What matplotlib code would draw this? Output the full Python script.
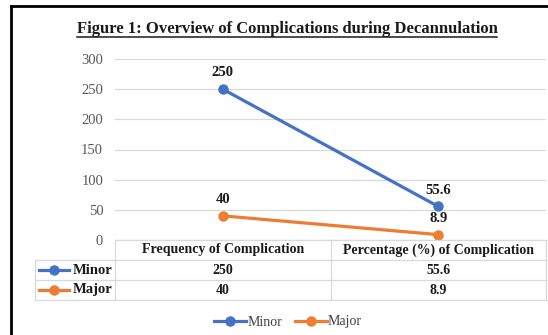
import matplotlib
matplotlib.use('Agg')
from matplotlib import pyplot as plt

# data
categories = ['Frequency of Complication', 'Percentage (%) of Complication']
series_names = ['Minor', 'Major']
minor_values = [250, 55.6]
major_values = [40, 8.9]
y_ticks = [0, 50, 100, 150, 200, 250, 300]
title = 'Figure 1: Overview of Complications during Decannulation'

colors = {'Minor': '#4472C4', 'Major': '#ED7D31'}
values = {'Minor': minor_values, 'Major': major_values}

W, H = 548, 335
SERIF = 'Liberation Serif'
TEXT_COLOR = '#1a1a1a'
GRID = '#d9d9d9'


def px(x, y):
    """pixel (from top-left) -> figure fraction"""
    return x / W, 1 - y / H


fig = plt.figure(figsize=(W / 100, H / 100), dpi=100, facecolor='white')

# plot area
left, right, top, bottom = 115, 546, 59, 240
ax = fig.add_axes([left / W, 1 - bottom / H, (right - left) / W, (bottom - top) / H])
ax.set_xlim(0, len(categories))
ax.set_ylim(y_ticks[0], y_ticks[-1])
ax.set_yticks(y_ticks)
ax.set_xticks([])
for s in ax.spines.values():
    s.set_visible(False)
ax.grid(axis='y', color=GRID, linewidth=0.9)
ax.set_axisbelow(True)
ax.tick_params(axis='y', length=0, pad=8.5, labelsize=10.5, labelcolor='#595959')
for lab in ax.get_yticklabels():
    lab.set_fontfamily(SERIF)

xs = [i + 0.5 for i in range(len(categories))]
handles = []
for name in series_names:
    line, = ax.plot(xs, values[name], color=colors[name], linewidth=2.3,
                    marker='o', markersize=6.5, clip_on=False, zorder=3)
    handles.append(line)
    for x, v in zip(xs, values[name]):
        ax.annotate(f'{v:g}', (x, v), xytext=(0, 7), textcoords='offset points',
                    ha='center', va='bottom', fontsize=10.5, fontweight='bold',
                    fontfamily=SERIF, color=TEXT_COLOR)

# data table under the plot, drawn on an overlay in pixel units
tab = fig.add_axes([0, 0, 1, 1], facecolor='none')
tab.set_xlim(0, W)
tab.set_ylim(H, 0)
tab.axis('off')

col_edges = [left + (right - left) * i / len(categories) for i in range(len(categories) + 1)]
row_h = 20
row_left = 35
row_edges = [bottom + row_h * i for i in range(len(series_names) + 2)]
lw = 0.9
# horizontal lines
tab.plot([left, right], [row_edges[0]] * 2, color=GRID, lw=lw)
for y in row_edges[1:]:
    tab.plot([row_left, right], [y, y], color=GRID, lw=lw)
# vertical lines
tab.plot([row_left, row_left], [row_edges[1], row_edges[-1]], color=GRID, lw=lw)
for x in col_edges:
    tab.plot([x, x], [row_edges[0], row_edges[-1]], color=GRID, lw=lw)

for i, cat in enumerate(categories):
    cx = (col_edges[i] + col_edges[i + 1]) / 2
    tab.text(cx, (row_edges[0] + row_edges[1]) / 2, cat, ha='center', va='center',
             fontsize=10, fontweight='bold', fontfamily=SERIF, color=TEXT_COLOR)
    for r, name in enumerate(series_names):
        cy = (row_edges[r + 1] + row_edges[r + 2]) / 2
        tab.text(cx, cy, f'{values[name][i]:g}', ha='center', va='center',
                 fontsize=10, fontweight='bold', fontfamily=SERIF, color=TEXT_COLOR)

# row headers: legend key + series name
for r, name in enumerate(series_names):
    cy = (row_edges[r + 1] + row_edges[r + 2]) / 2
    tab.plot([row_left + 4, row_left + 34], [cy, cy], color=colors[name], lw=2.3)
    tab.plot([row_left + 19], [cy], marker='o', markersize=6.5, color=colors[name])
    tab.text(left - 3, cy, name, ha='right', va='center', fontsize=10.5,
             fontweight='bold', fontfamily=SERIF, color=TEXT_COLOR)

# legend
fig.legend(handles, series_names, loc='center', bbox_to_anchor=px(288, 322), ncol=2,
           frameon=False, prop={'family': SERIF, 'size': 10}, handlelength=2.3,
           handletextpad=0.1, columnspacing=0.9, labelcolor='#404040')

# title with underline
t = tab.text(287, 33, title, ha='center', va='baseline', fontsize=12,
             fontweight='bold', fontfamily=SERIF, color=TEXT_COLOR)
fig.canvas.draw()
bb = t.get_window_extent()
tab.plot([bb.x0, bb.x1], [37, 37], color=TEXT_COLOR, lw=1.1)

# outer frame (left and top edges visible in the source)
tab.plot([11, 11], [6, H], color='black', lw=2.0, solid_capstyle='projecting')
tab.plot([11, W], [6, 6], color='black', lw=2.0, solid_capstyle='projecting')

fig.savefig('out.png', dpi=100, facecolor='white')
